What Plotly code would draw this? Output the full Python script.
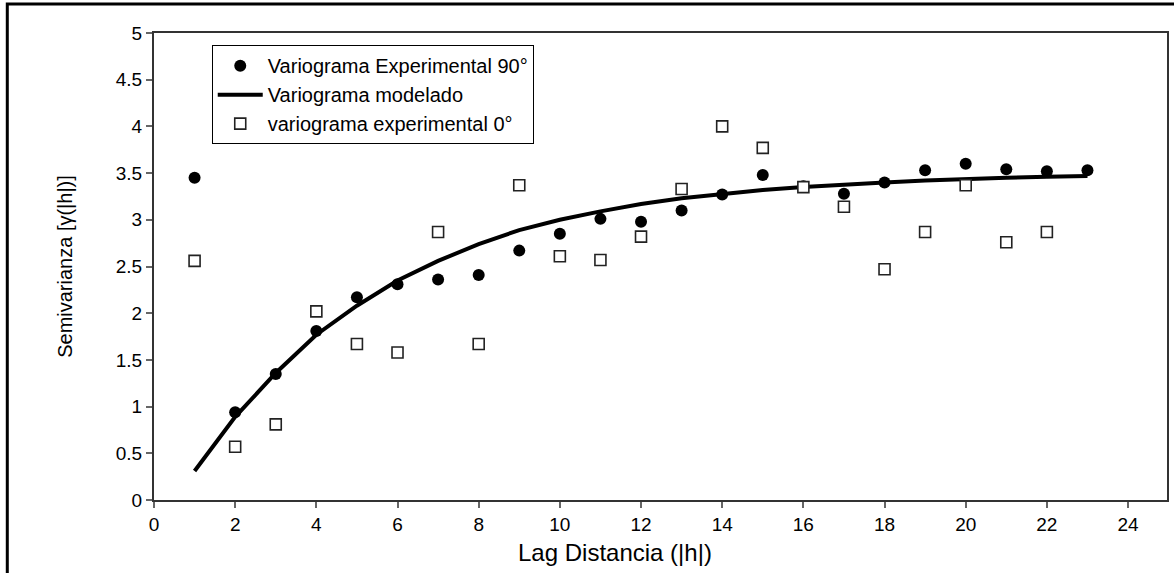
import plotly.graph_objects as go

# Data
lag = list(range(1, 24))
exp_90 = [3.45, 0.94, 1.35, 1.81, 2.17, 2.31, 2.36, 2.41, 2.67, 2.85, 3.01, 2.98,
          3.10, 3.27, 3.48, 3.36, 3.28, 3.40, 3.53, 3.60, 3.54, 3.52, 3.53]
model = [0.31, 0.89, 1.36, 1.77, 2.08, 2.35, 2.56, 2.74, 2.89, 3.00, 3.09, 3.17,
         3.23, 3.28, 3.32, 3.35, 3.38, 3.40, 3.42, 3.44, 3.45, 3.46, 3.47]
lag_0 = list(range(1, 23))
exp_0 = [2.56, 0.57, 0.81, 2.02, 1.67, 1.58, 2.87, 1.67, 3.37, 2.61, 2.57, 2.82,
         3.33, 4.00, 3.77, 3.35, 3.14, 2.47, 2.87, 3.37, 2.76, 2.87]

x_ticks = list(range(0, 25, 2))
y_ticks = [0, 0.5, 1, 1.5, 2, 2.5, 3, 3.5, 4, 4.5, 5]
y_tick_text = ["0", "0.5", "1", "1.5", "2", "2.5", "3", "3.5", "4", "4.5", "5"]

FONT = "Liberation Sans, Arial, sans-serif"

fig = go.Figure()
fig.add_trace(go.Scatter(
    x=lag, y=exp_90, mode="markers", name="Variograma Experimental 90°",
    marker=dict(symbol="circle", size=12, color="black"),
))
fig.add_trace(go.Scatter(
    x=lag, y=model, mode="lines", name="Variograma modelado",
    line=dict(color="black", width=4),
))
fig.add_trace(go.Scatter(
    x=lag_0, y=exp_0, mode="markers", name="variograma experimental 0°",
    marker=dict(symbol="square", size=11, color="white",
                line=dict(color="#222222", width=1.6)),
))

axis_common = dict(
    showline=True, linecolor="#333333", linewidth=2, mirror=True,
    ticks="outside", ticklen=6, tickcolor="#666666", tickwidth=1.5,
    showgrid=False, zeroline=False,
    tickfont=dict(family=FONT, size=19, color="black"),
)

fig.update_layout(
    width=1174, height=573,
    margin=dict(l=154, r=5, t=33, b=73),
    paper_bgcolor="white", plot_bgcolor="white",
    font=dict(family=FONT, color="black"),
    showlegend=True,
    legend=dict(
        x=0.057, y=0.974, xanchor="left", yanchor="top",
        bgcolor="white", bordercolor="black", borderwidth=1,
        font=dict(family=FONT, size=20, color="black"),
        tracegroupgap=0, itemwidth=45,
    ),
    xaxis=dict(range=[0, 24.96], tickvals=x_ticks, **axis_common),
    yaxis=dict(range=[0, 5], tickvals=y_ticks, ticktext=y_tick_text,
               title=dict(text="Semivarianza [γ(|h|)]",
                          font=dict(family=FONT, size=20, color="black"),
                          standoff=38),
               **axis_common),
    annotations=[dict(
        text="Lag Distancia (|h|)", xref="paper", yref="paper",
        x=(616 - 154) / 1015, y=-0.113, xanchor="center", yanchor="middle",
        showarrow=False, font=dict(family=FONT, size=24, color="black"),
    )],
    shapes=[dict(
        type="rect", xref="paper", yref="paper",
        x0=(7 - 154) / 1015, x1=(1185 - 154) / 1015,
        y0=(500 - 600) / 467, y1=(500 - 4) / 467,
        line=dict(color="black", width=3), fillcolor="rgba(0,0,0,0)",
        layer="below",
    )],
)

fig.write_html("out.html")
